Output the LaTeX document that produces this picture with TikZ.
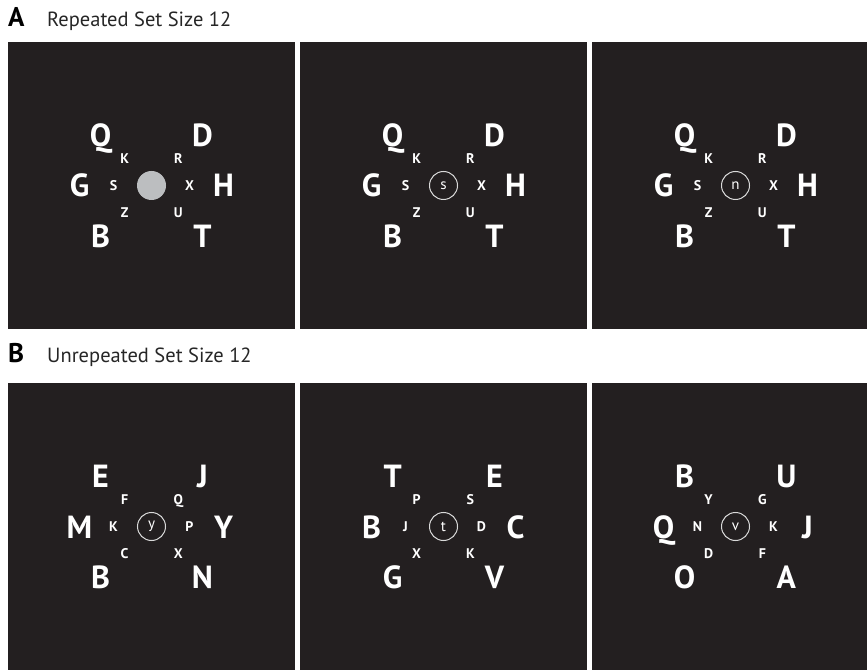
\documentclass[tikz,border=0pt]{standalone}
\usepackage{fontspec}
\setmainfont{PT Sans}
\usepackage{tikz}
\usetikzlibrary{calc}
\usepackage{xcolor}
\definecolor{panelbg}{HTML}{231F20}
\definecolor{fixgray}{HTML}{BCBEC0}
\definecolor{ringgray}{HTML}{D9D9D9}
\tikzstyle{panelbox} = [rectangle, fill=panelbg, minimum size=287pt, inner sep=0pt]
\tikzstyle{bigltr} = [text=white, font=\bfseries\fontsize{32}{32}\selectfont, inner sep=0pt, text height=23pt, text depth=0pt]
\tikzstyle{smallltr} = [text=white, font=\bfseries\fontsize{14}{14}\selectfont, inner sep=0pt, text height=10pt, text depth=0pt]
\tikzstyle{fixdot} = [circle, fill=fixgray, minimum size=29pt, inner sep=0pt]
\tikzstyle{probe} = [circle, draw=ringgray, line width=1pt, minimum size=28pt, inner sep=0pt, text=white, font=\fontsize{15}{15}\selectfont]
\tikzstyle{panellabel} = [anchor=base west, inner sep=0pt, font=\bfseries\fontsize{27}{27}\selectfont]
\tikzstyle{paneltitle} = [anchor=base west, inner sep=0pt, font=\fontsize{20.5}{20.5}\selectfont, text=black!85]

% letters of one display: angle/outer/inner
\newcommand{\stimset}[2]{%
  \foreach \ang/\outer/\inner in {#2} {
    \node[bigltr] (#1-o\ang) at ($(#1)+(\ang:72)$) {\outer};
    \node[smallltr] (#1-i\ang) at ($(#1)+(\ang:38)$) {\inner};
  }
}

\begin{document}
\begin{tikzpicture}[x=1pt, y=1pt]
  \useasboundingbox (0,0) rectangle (867,670);
  % Labels
  \node[panellabel] (labA) at (8,643) {A};
  \node[paneltitle] (titleA) at (47,643) {Repeated Set Size 12};
  \node[panellabel] (labB) at (8,307) {B};
  \node[paneltitle] (titleB) at (47,307) {Unrepeated Set Size 12};

  % Repeated displays
  \node[panelbox] (pA1) at (151.5,484.5) {};
  \node[panelbox] (pA2) at (443.5,484.5) {};
  \node[panelbox] (pA3) at (735.5,484.5) {};
  \node[fixdot] (fixA1) at (pA1) {};
  \node[probe] (probeA2) at (pA2) {s};
  \node[probe] (probeA3) at (pA3) {n};
  \stimset{pA1}{0/H/X, 45/D/R, 135/Q/K, 180/G/S, 225/B/Z, 315/T/U}
  \stimset{pA2}{0/H/X, 45/D/R, 135/Q/K, 180/G/S, 225/B/Z, 315/T/U}
  \stimset{pA3}{0/H/X, 45/D/R, 135/Q/K, 180/G/S, 225/B/Z, 315/T/U}

  % Unrepeated displays
  \node[panelbox] (pB1) at (151.5,143.5) {};
  \node[panelbox] (pB2) at (443.5,143.5) {};
  \node[panelbox] (pB3) at (735.5,143.5) {};
  \node[probe] (probeB1) at (pB1) {y};
  \node[probe] (probeB2) at (pB2) {t};
  \node[probe] (probeB3) at (pB3) {v};
  \stimset{pB1}{0/Y/P, 45/J/Q, 135/E/F, 180/M/K, 225/B/C, 315/N/X}
  \stimset{pB2}{0/C/D, 45/E/S, 135/T/P, 180/B/J, 225/G/X, 315/V/K}
  \stimset{pB3}{0/J/K, 45/U/G, 135/B/Y, 180/Q/N, 225/O/D, 315/A/F}
\end{tikzpicture}
\end{document}
